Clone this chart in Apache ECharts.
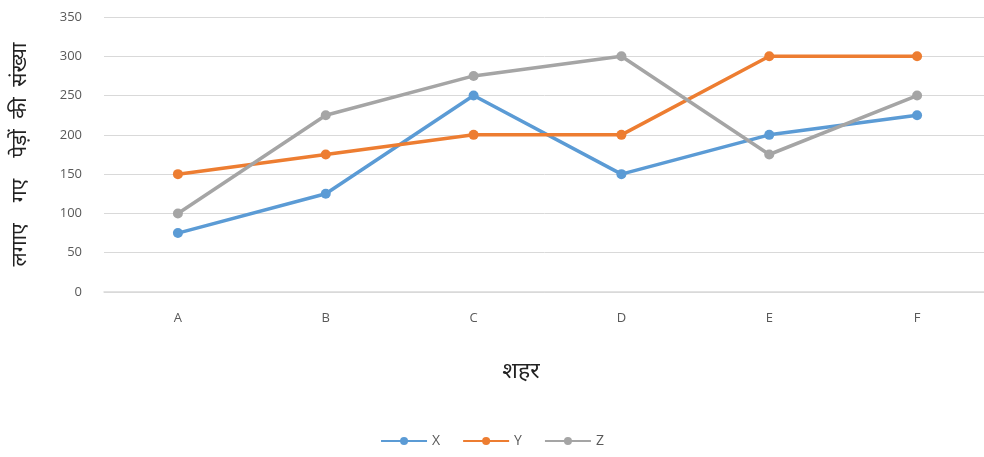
<!DOCTYPE html>
<html><head><meta charset="utf-8">
<script src="https://cdn.jsdelivr.net/npm/echarts@6/dist/echarts.min.js"></script>
<style>html,body{margin:0;padding:0;background:#fff}#c{width:984px;height:457px}</style>
</head><body><div id="c"></div>
<script>
const categories = ['A','B','C','D','E','F'];
const seriesX = [75,125,250,150,200,225];
const seriesY = [150,175,200,200,300,300];
const seriesZ = [100,225,275,300,175,250];
const yTicks = {min:0, max:350, interval:50};
const colors = ['#5B9BD5','#ED7D31','#A5A5A5'];
const hindiFont = '"Noto Sans Devanagari","Lohit Devanagari","Noto Sans",sans-serif';

const chart = echarts.init(document.getElementById('c'));
function mk(name, data, color){
  return {name, type:'line', data, symbol:'circle', symbolSize:10,
    lineStyle:{width:3.5,color}, itemStyle:{color}, emphasis:{disabled:true}};
}
chart.setOption({
  animation:false,
  color: colors,
  title:{text:'शहर', left:516, top:357, textAlign:'center',
    textStyle:{fontSize:23, fontWeight:'normal', color:'#222', fontFamily:hindiFont}},
  grid:{left:104, top:17, width:887, height:275, containLabel:false, outerBoundsMode:'none'},
  legend:{bottom:4, left:'center', itemWidth:46, itemHeight:10, itemGap:22,
    textStyle:{color:'#595959', fontSize:14, fontFamily:'"Open Sans",sans-serif'},
    data:['X','Y','Z']},
  xAxis:{type:'category', data:categories, boundaryGap:true,
    axisLine:{lineStyle:{color:'#d9d9d9', width:1.5}}, axisTick:{show:false},
    axisLabel:{color:'#595959', fontSize:13, margin:20, fontFamily:'"Open Sans",sans-serif'}},
  yAxis:{type:'value', min:yTicks.min, max:yTicks.max, interval:yTicks.interval,
    name:'लगाए\u2003गए\u2003पेड़ों\u2002की\u2002संख्या', nameLocation:'middle', nameGap:71, nameRotate:90,
    nameTextStyle:{fontSize:21, color:'#222', fontFamily:hindiFont},
    axisLine:{show:false}, axisTick:{show:false},
    splitLine:{lineStyle:{color:'#d9d9d9', width:1}},
    axisLabel:{color:'#595959', fontSize:13, margin:22, fontFamily:'"Open Sans",sans-serif'}},
  series:[mk('X',seriesX,colors[0]), mk('Y',seriesY,colors[1]), mk('Z',seriesZ,colors[2])]
});
</script></body></html>
